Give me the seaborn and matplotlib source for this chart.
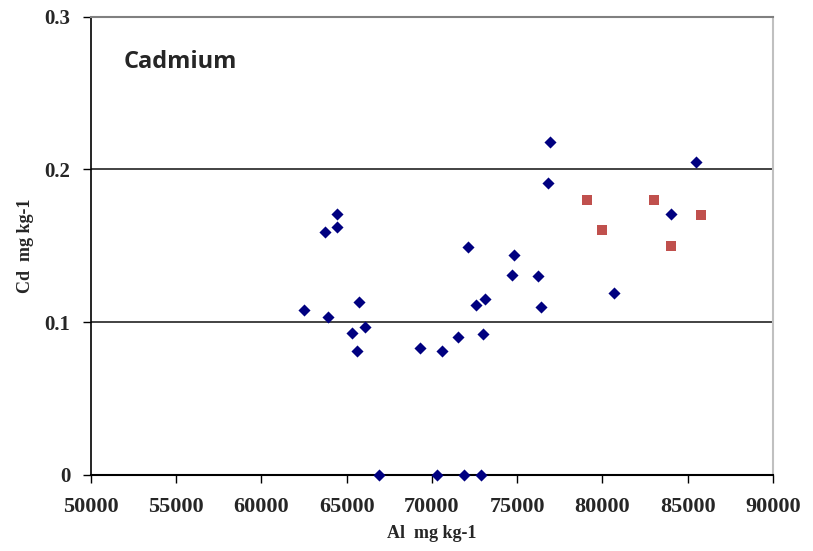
import matplotlib
matplotlib.use("Agg")
import matplotlib.pyplot as plt
import seaborn as sns
import pandas as pd

# Blue series (diamonds)
al_blue = [76900, 76800, 85500, 64400, 63700, 64400, 72100, 74800, 74700, 76200,
           80700, 84000, 65700, 62500, 63900, 73100, 72600, 76400, 66100, 65300,
           73000, 71500, 69300, 70600, 65600, 66900, 70300, 71900, 72900]
cd_blue = [0.218, 0.191, 0.205, 0.171, 0.159, 0.162, 0.149, 0.144, 0.131, 0.130,
           0.119, 0.171, 0.113, 0.108, 0.103, 0.115, 0.111, 0.110, 0.097, 0.093,
           0.092, 0.090, 0.083, 0.081, 0.081, 0.0, 0.0, 0.0, 0.0]
# Red series (squares)
al_red = [79100, 80000, 83000, 84000, 85800]
cd_red = [0.18, 0.16, 0.18, 0.15, 0.17]

x_ticks = [50000, 55000, 60000, 65000, 70000, 75000, 80000, 85000, 90000]
y_ticks = [0, 0.1, 0.2, 0.3]
y_ticklabels = ["0", "0.1", "0.2", "0.3"]

sns.set_style("white")
plt.rcParams['font.family'] = ['Liberation Serif', 'DejaVu Serif']

fig = plt.figure(figsize=(8.13, 5.51), dpi=100)
ax = fig.add_axes([0.1119, 0.1385, 0.8389, 0.8312])

df_b = pd.DataFrame({"Al": al_blue, "Cd": cd_blue})
df_r = pd.DataFrame({"Al": al_red, "Cd": cd_red})

for v in [0.1, 0.2]:
    ax.axhline(v, color="#222222", lw=1.2, zorder=1)

sns.scatterplot(data=df_b, x="Al", y="Cd", marker="D", s=38, color="#000080",
                edgecolor="#000080", linewidth=0, ax=ax, zorder=3, clip_on=False)
sns.scatterplot(data=df_r, x="Al", y="Cd", marker="s", s=60, color="#C0504D",
                edgecolor="#C0504D", linewidth=0, ax=ax, zorder=3, clip_on=False)

ax.set_xlim(50000, 90000)
ax.set_ylim(0, 0.3)
ax.set_xticks(x_ticks)
ax.set_xticklabels([str(t) for t in x_ticks])
ax.set_yticks(y_ticks)
ax.set_yticklabels(y_ticklabels)

for lab in ax.get_xticklabels():
    lab.set_fontweight("bold")
    lab.set_fontsize(16)
for lab in ax.get_yticklabels():
    lab.set_fontweight("bold")
    lab.set_fontsize(15)

ax.tick_params(axis="both", direction="out", length=6, width=1, color="black",
               bottom=True, left=True)
ax.tick_params(axis="y", pad=9)
ax.tick_params(axis="x", pad=10)

ax.spines["left"].set_color("black")
ax.spines["bottom"].set_color("black")
ax.spines["left"].set_linewidth(1.2)
ax.spines["bottom"].set_linewidth(1.5)
ax.spines["top"].set_color("#808080")
ax.spines["top"].set_linewidth(1.5)
ax.spines["right"].set_color("#C0C0C0")
ax.spines["right"].set_linewidth(1.5)

ax.set_xlabel("Al  mg kg-1", fontsize=13, fontweight="bold", labelpad=6)
ax.set_ylabel("Cd  mg kg-1", fontsize=13, fontweight="bold", labelpad=7)

ax.text(0.048, 0.9, "Cadmium", transform=ax.transAxes, fontsize=17,
        fontweight="bold", family=["Open Sans", "DejaVu Sans"], va="center", ha="left")

fig.savefig("out.png", dpi=100)
